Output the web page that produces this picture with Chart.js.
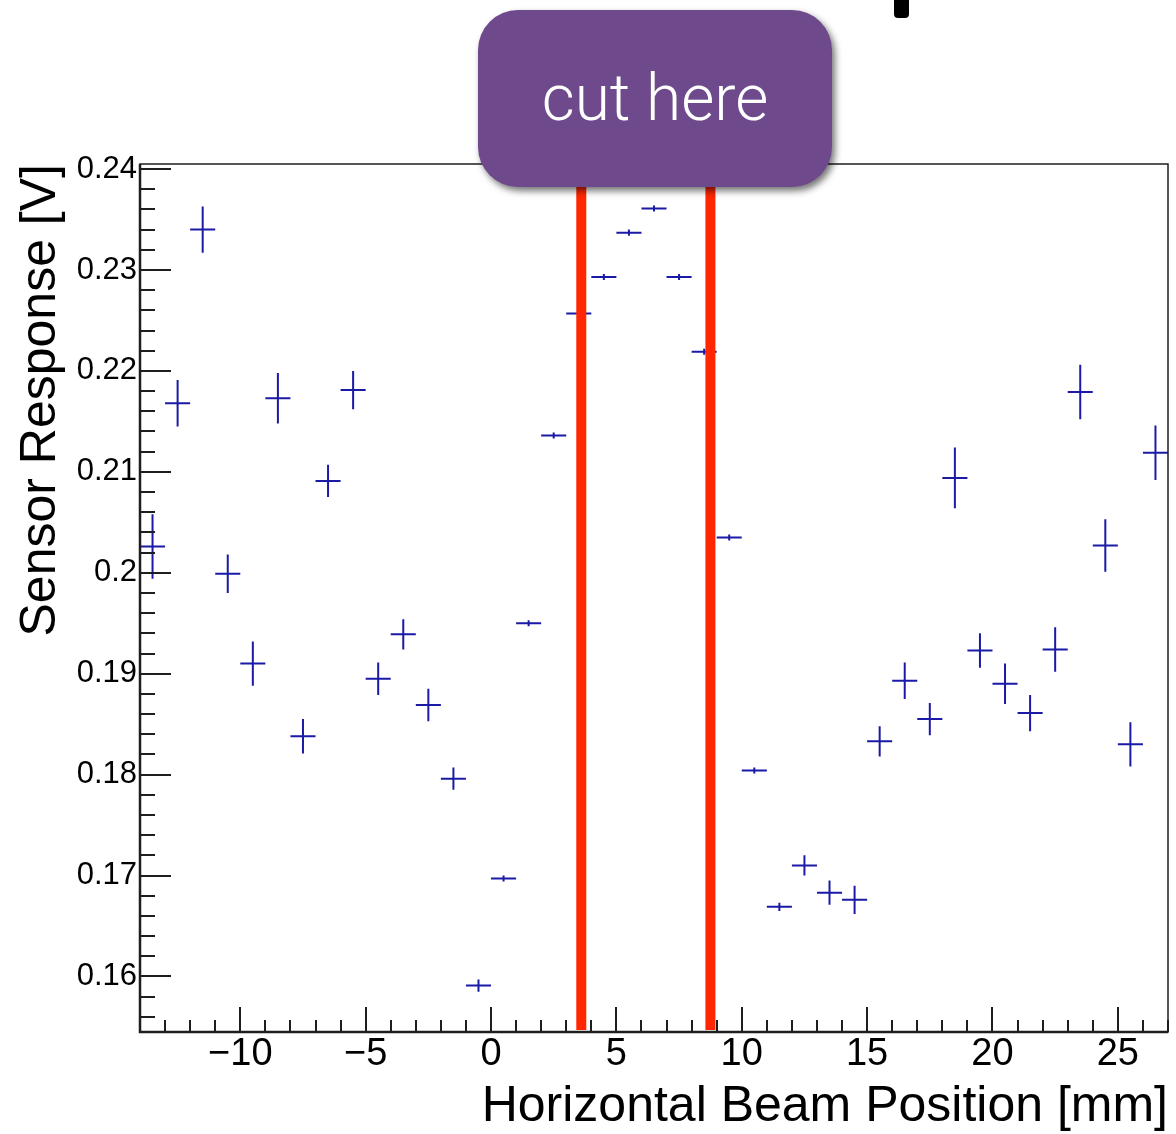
<!DOCTYPE html>
<html>
<head>
<meta charset="utf-8">
<script src="https://cdn.jsdelivr.net/npm/chart.js@4"></script>
<style>
  html, body { margin: 0; padding: 0; background: #fff; }
  #wrap { position: relative; width: 1176px; height: 1134px; overflow: hidden; }
  #cutBox {
    position: absolute; left: 478px; top: 10px; width: 354px; height: 177px;
    background: #6e4a8c; border-radius: 40px;
    box-shadow: 3px 4px 7px rgba(0,0,0,0.55);
    color: #fff; font-family: Roboto, "Open Sans", sans-serif; font-weight: 300;
    font-size: 64px; text-align: center; line-height: 177px; box-sizing: border-box;
    padding-bottom: 8px;
  }
  #titleStub {
    position: absolute; left: 894px; top: 0; width: 15px; height: 18px;
    background: #000; border-radius: 0 0 4px 4px;
  }
</style>
</head>
<body>
<div id="wrap">
  <canvas id="c" width="1176" height="1134"></canvas>
  <div id="titleStub"></div>
  <div id="cutBox">cut here</div>
</div>
<script>
// beam positions (bin centres, mm)
const beamPos = [-13.5, -12.5, -11.5, -10.5, -9.5, -8.5, -7.5, -6.5, -5.5, -4.5,
  -3.5, -2.5, -1.5, -0.5, 0.5, 1.5, 2.5, 3.5, 4.5, 5.5, 6.5, 7.5, 8.5, 9.5,
  10.5, 11.5, 12.5, 13.5, 14.5, 15.5, 16.5, 17.5, 18.5, 19.5, 20.5, 21.5,
  22.5, 23.5, 24.5, 25.5, 26.5];
// sensor response (V)
const response = [0.2026, 0.2168, 0.2340, 0.1999, 0.1910, 0.2173, 0.1838, 0.2091, 0.2181, 0.1895,
  0.1939, 0.1869, 0.1796, 0.1591, 0.1697, 0.1950, 0.2136, 0.2257, 0.2293, 0.2337,
  0.2361, 0.2293, 0.2219, 0.2035, 0.1804, 0.1669, 0.1710, 0.1683, 0.1676, 0.1833,
  0.1893, 0.1855, 0.2094, 0.1923, 0.1890, 0.1861, 0.1924, 0.2179, 0.2027, 0.1830,
  0.2119];
// vertical errors (V)
const responseErr = [0.0032, 0.0023, 0.0023, 0.0019, 0.0022, 0.0025, 0.0017, 0.0016, 0.0019, 0.0016,
  0.0015, 0.0016, 0.0011, 0.0006, 0.0003, 0.0003, 0.0003, 0.0002, 0.0003, 0.0003,
  0.0003, 0.0003, 0.0003, 0.0003, 0.0003, 0.0004, 0.0010, 0.0012, 0.0014, 0.0015,
  0.0018, 0.0016, 0.0030, 0.0017, 0.0020, 0.0018, 0.0022, 0.0027, 0.0026, 0.0022,
  0.0027];
const binHalfWidth = 0.5;

const cutPositions = [3.6, 8.75];

const xTickValues = [-10, -5, 0, 5, 10, 15, 20, 25];
const yTickValues = [0.16, 0.17, 0.18, 0.19, 0.2, 0.21, 0.22, 0.23, 0.24];

const FONT = '"Liberation Sans", Arial, Helvetica, sans-serif';

const errorBars = {
  id: 'errorBars',
  afterDatasetsDraw(chart) {
    const { ctx, scales: { x, y } } = chart;
    ctx.save();
    ctx.strokeStyle = '#1a1aa6';
    ctx.lineWidth = 2;
    ctx.beginPath();
    beamPos.forEach((b, i) => {
      const px = x.getPixelForValue(b);
      const py = y.getPixelForValue(response[i]);
      ctx.moveTo(x.getPixelForValue(b - binHalfWidth), py);
      ctx.lineTo(x.getPixelForValue(b + binHalfWidth), py);
      ctx.moveTo(px, y.getPixelForValue(response[i] - responseErr[i]));
      ctx.lineTo(px, y.getPixelForValue(response[i] + responseErr[i]));
    });
    ctx.stroke();

    // the two cut lines
    const area = chart.chartArea;
    ctx.strokeStyle = '#ff2600';
    ctx.lineWidth = 10;
    ctx.beginPath();
    cutPositions.forEach(c => {
      const px = x.getPixelForValue(c);
      ctx.moveTo(px, area.top);
      ctx.lineTo(px, area.bottom - 2);
    });
    ctx.stroke();
    ctx.restore();
  }
};

// ROOT style frame with inward ticks
const rootFrame = {
  id: 'rootFrame',
  afterDraw(chart) {
    const { ctx, chartArea: a, scales: { x, y } } = chart;
    ctx.save();
    ctx.strokeStyle = '#1e1e1e';
    ctx.lineWidth = 1.5;
    ctx.strokeRect(a.left, a.top, a.right - a.left, a.bottom - a.top);
    ctx.lineWidth = 2.5;
    ctx.beginPath();
    ctx.moveTo(a.left, a.top);
    ctx.lineTo(a.left, a.bottom);
    ctx.lineTo(a.right, a.bottom);
    ctx.stroke();

    ctx.lineWidth = 2;
    ctx.beginPath();
    for (let v = -14; v <= 27; v++) {
      const px = Math.round(x.getPixelForValue(v));
      const len = v % 5 === 0 ? 25 : 12;
      ctx.moveTo(px, a.bottom);
      ctx.lineTo(px, a.bottom - len);
    }
    for (let k = 0; k <= 43; k++) {
      const v = 0.154 + k * 0.002;
      if (v < y.min || v > y.max) continue;
      const py = Math.round(y.getPixelForValue(v));
      const len = k % 5 === 3 ? 31 : 15;
      ctx.moveTo(a.left, py);
      ctx.lineTo(a.left + len, py);
    }
    ctx.stroke();
    ctx.restore();
  }
};

new Chart(document.getElementById('c'), {
  type: 'scatter',
  data: {
    datasets: [{
      data: beamPos.map((b, i) => ({ x: b, y: response[i] })),
      pointRadius: 0,
      showLine: false
    }]
  },
  options: {
    responsive: false,
    animation: false,
    layout: { padding: { top: 164, right: 8, left: 0, bottom: 0 } },
    plugins: { legend: { display: false }, tooltip: { enabled: false } },
    scales: {
      x: {
        type: 'linear', min: -14, max: 27,
        afterBuildTicks: s => { s.ticks = xTickValues.map(v => ({ value: v })); },
        afterFit: s => { s.height = 102; },
        grid: { display: false, drawTicks: false },
        border: { display: false },
        ticks: {
          color: '#000', padding: 0,
          font: { family: FONT, size: 38 },
          maxRotation: 0,
          callback: v => v < 0 ? '\u2212' + Math.abs(v) : String(v)
        },
        title: {
          display: true, text: 'Horizontal Beam Position [mm]', align: 'end',
          color: '#000', font: { family: FONT, size: 50, lineHeight: 1 },
          padding: { top: 0, bottom: 2 }
        }
      },
      y: {
        type: 'linear', min: 0.1545, max: 0.2405,
        afterBuildTicks: s => { s.ticks = yTickValues.map(v => ({ value: v })); },
        afterFit: s => { s.width = 140; },
        grid: { display: false, drawTicks: false },
        border: { display: false },
        ticks: {
          color: '#000', padding: 3,
          font: { family: FONT, size: 31 },
          callback: v => String(Number(v.toFixed(3)))
        },
        title: {
          display: true, text: 'Sensor Response [V]', align: 'end',
          color: '#000', font: { family: FONT, size: 50, lineHeight: 1 },
          padding: { top: 16, bottom: 0 }
        }
      }
    }
  },
  plugins: [errorBars, rootFrame]
});
</script>
</body>
</html>
